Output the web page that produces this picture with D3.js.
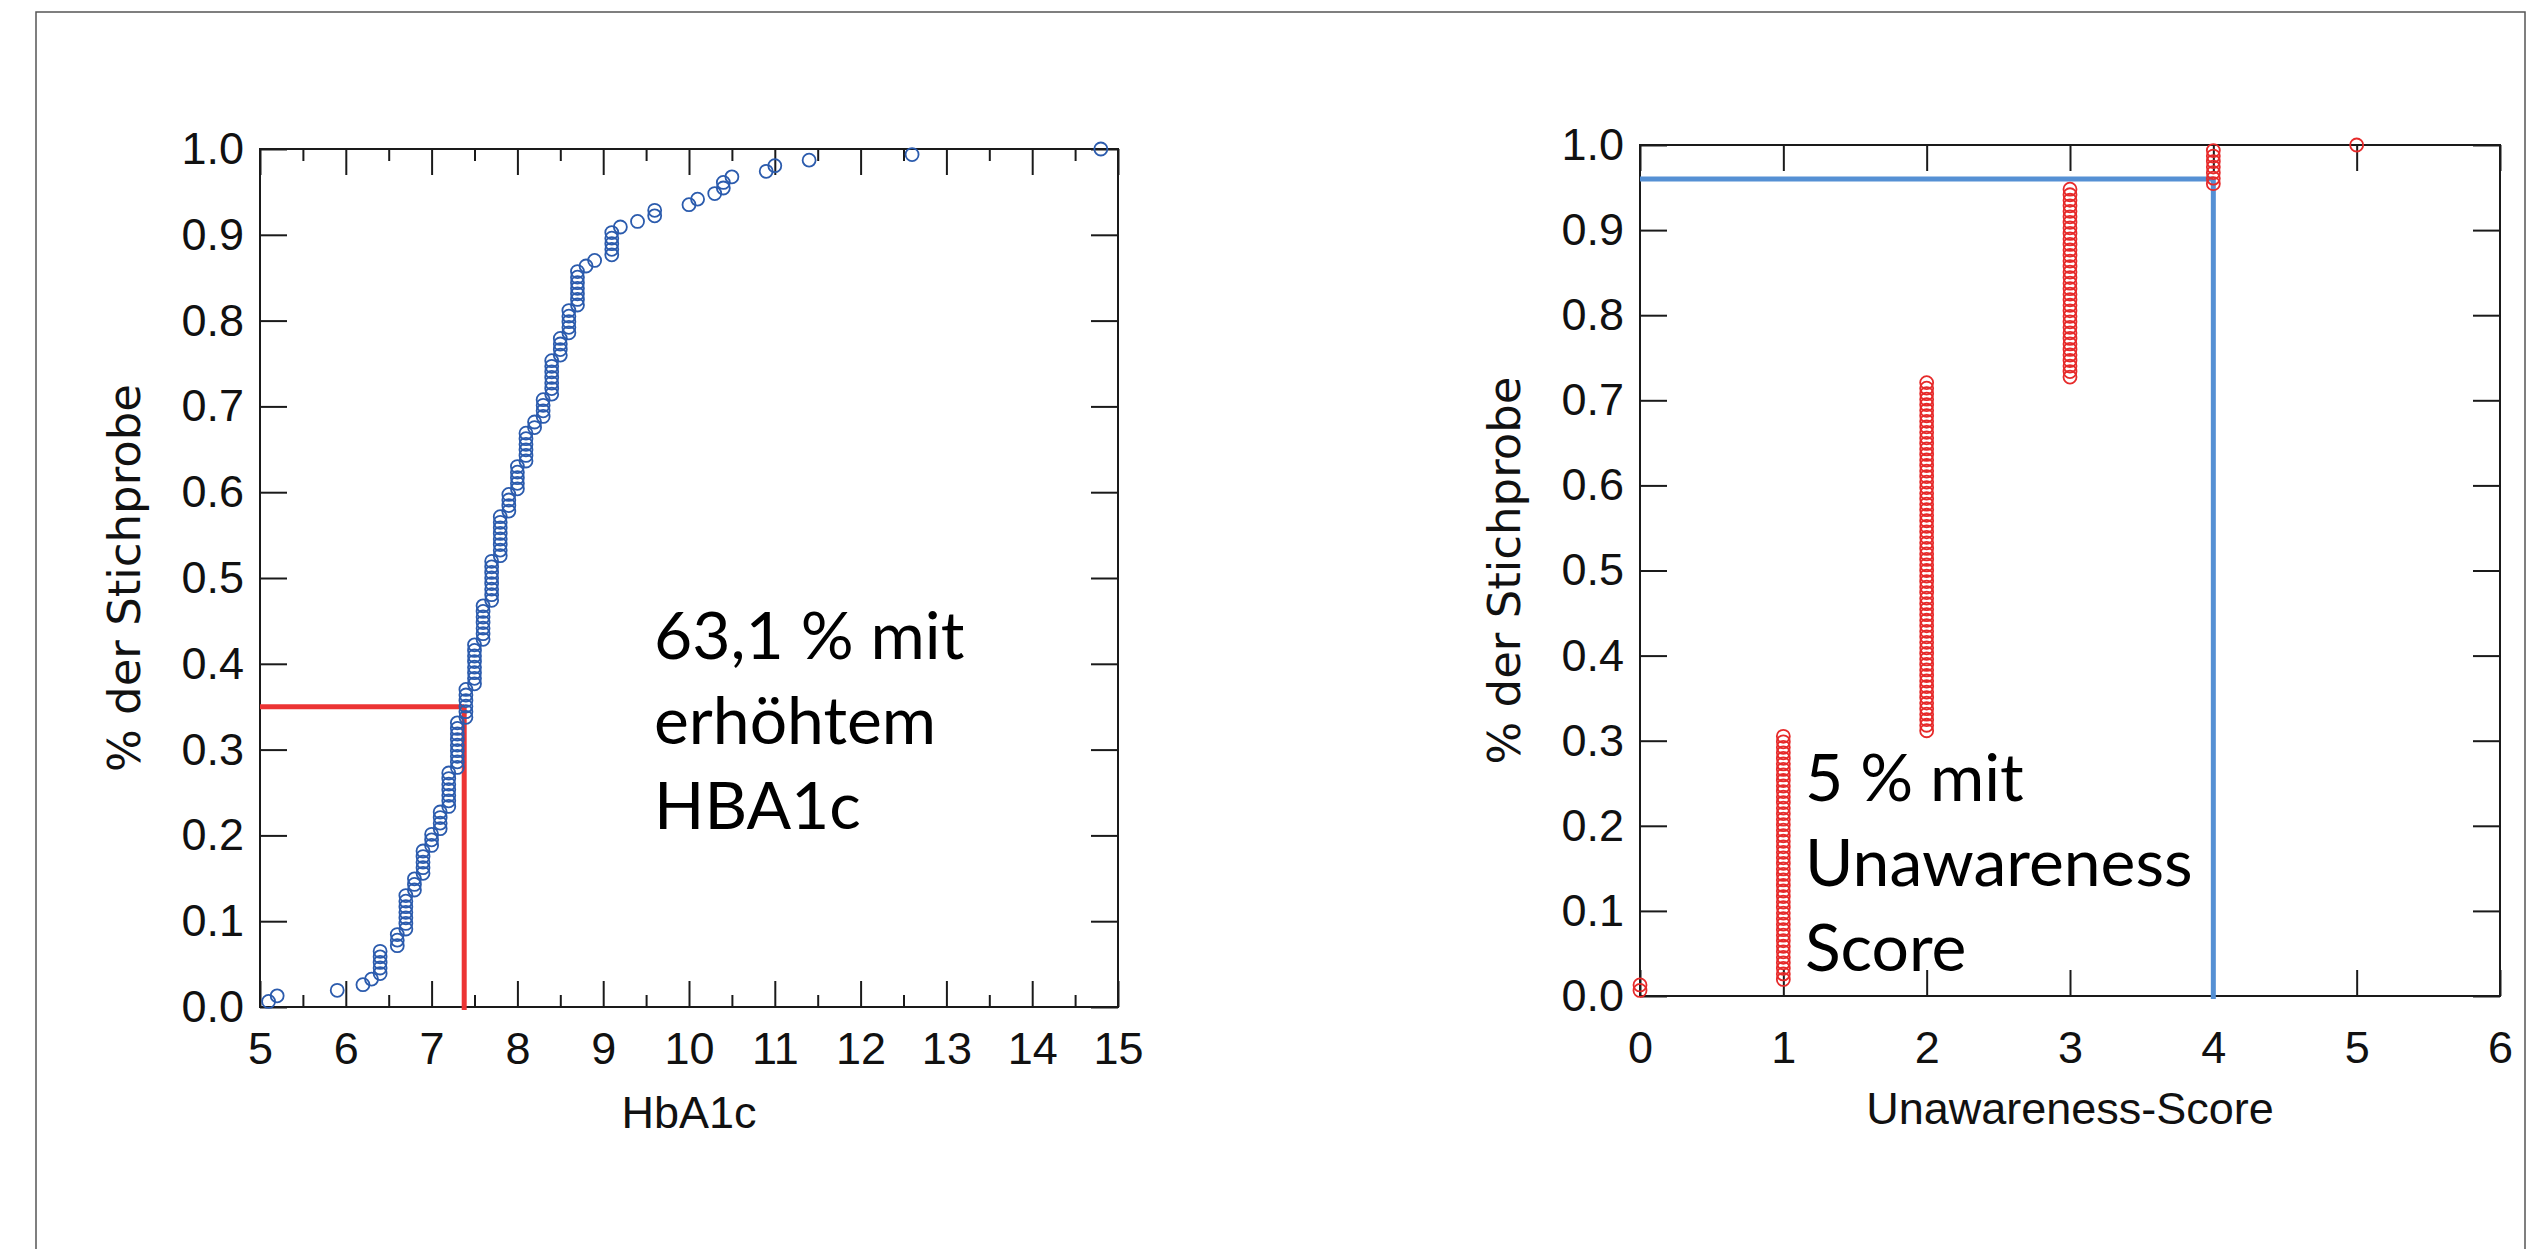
<!DOCTYPE html>
<html>
<head>
<meta charset="utf-8">
<script src="https://cdnjs.cloudflare.com/ajax/libs/d3/7.8.5/d3.min.js"></script>
<style>
body{margin:0;background:#fff;}
.tick text{font-family:"Liberation Sans",Arial,sans-serif;font-size:45px;fill:#111;}
.tick line{stroke:#1a1a1a;stroke-width:2;}
.frame{fill:none;stroke:#1a1a1a;stroke-width:2;}
.xtitle{font-family:"Liberation Sans",Arial,sans-serif;font-size:45px;fill:#111;}
.ytitle{font-family:"DejaVu Sans",Verdana,sans-serif;font-size:45px;fill:#111;}
.note{font-family:Lato,sans-serif;font-size:66px;fill:#000;}
</style>
</head>
<body>
<script>
// HbA1c: distinct values and how many patients share each value
var hbaValues = [5.1,5.2,5.9,6.2,6.3,6.4,6.6,6.7,6.8,6.9,7.0,7.1,7.2,7.3,7.4,7.5,7.6,7.7,7.8,7.9,8.0,8.1,8.2,8.3,8.4,8.5,8.6,8.7,8.8,8.9,9.1,9.2,9.4,9.6,10.0,10.1,10.3,10.4,10.5,10.9,11.0,11.4,12.6,14.8];
var hbaCounts = [1,1,1,1,1,5,3,7,3,5,3,4,7,9,6,8,7,8,8,4,5,6,2,4,7,4,5,7,1,1,5,1,1,2,1,1,1,2,1,1,1,1,1,1];

// Unawareness-Score: values and counts
var scoreValues = [0,1,2,3,4,5];
var scoreCounts = [2,45,64,35,7,1];

var yTicks = [0,0.1,0.2,0.3,0.4,0.5,0.6,0.7,0.8,0.9,1.0];
var hbaTicks = [5,6,7,8,9,10,11,12,13,14,15];
var hbaMinorTicks = [5.5,6.5,7.5,8.5,9.5,10.5,11.5,12.5,13.5,14.5];
var scoreTicks = [0,1,2,3,4,5,6];

var hbaCut = {x:7.38, y:0.35};
var scoreCut = {x:4, y:0.96};

var hbaNote = ["63,1 % mit","erhöhtem","HBA1c"];
var scoreNote = ["5 % mit","Unawareness","Score"];

var ecdf = function(values, counts){
    var n = d3.sum(counts), rank = 0, pts = [];
    values.forEach(function(v,i){
        for (var j = 0; j < counts[i]; j++){
            rank++;
            pts.push({x:v, y:rank/n});
        }
    });
    return pts;
}

var drawAxes = function(g, xScale, yScale, cfg){
    var x0 = xScale.range()[0], x1 = xScale.range()[1];
    var y0 = yScale.range()[0], y1 = yScale.range()[1];
    var fmt = d3.format(".1f");

    g.append('g').attr('transform','translate(0,'+y0+')')
        .call(d3.axisBottom(xScale).tickValues(cfg.xTicks).tickSize(-26).tickPadding(cfg.xPad).tickFormat(d3.format("d")));
    g.append('g').attr('transform','translate(0,'+y1+')')
        .call(d3.axisTop(xScale).tickValues(cfg.xTicks).tickSize(-26).tickFormat(""));
    if (cfg.minor){
        g.append('g').attr('transform','translate(0,'+y0+')')
            .call(d3.axisBottom(xScale).tickValues(cfg.minor).tickSize(-12).tickFormat(""));
        g.append('g').attr('transform','translate(0,'+y1+')')
            .call(d3.axisTop(xScale).tickValues(cfg.minor).tickSize(-12).tickFormat(""));
    }
    g.append('g').attr('transform','translate('+x0+',0)')
        .call(d3.axisLeft(yScale).tickValues(yTicks).tickSize(-27).tickPadding(16).tickFormat(fmt));
    g.append('g').attr('transform','translate('+x1+',0)')
        .call(d3.axisRight(yScale).tickValues(yTicks).tickSize(-27).tickFormat(""));
    g.selectAll('.domain').remove();
    g.selectAll('.tick text').attr('font-size', null).attr('font-family', null).attr('fill', null);
    g.selectAll('.tick line').attr('stroke', null);

    g.append('rect').classed('frame',true)
        .attr('x',x0).attr('y',y1).attr('width',x1-x0).attr('height',y0-y1);
}

var drawPanel = function(svg, cfg){
    var xScale = d3.scaleLinear().domain(cfg.xDomain).range(cfg.xRange);
    var yScale = d3.scaleLinear().domain([0,1]).range(cfg.yRange);
    var g = svg.append('g');

    drawAxes(g, xScale, yScale, cfg);

    // cut-off guide lines
    var d0 = xScale.domain()[0];
    g.append('path')
        .attr('d', d3.line()([[xScale(d0), yScale(cfg.cut.y)], [xScale(cfg.cut.x), yScale(cfg.cut.y)]]))
        .attr('stroke', cfg.lineColor).attr('stroke-width', 5).attr('fill','none');
    g.append('path')
        .attr('d', d3.line()([[xScale(cfg.cut.x), yScale(cfg.cut.y)], [xScale(cfg.cut.x), yScale(0)+3]]))
        .attr('stroke', cfg.lineColor).attr('stroke-width', 5).attr('fill','none');

    g.append('g').selectAll('circle').data(cfg.points).enter().append('circle')
        .attr('cx', function(d){ return xScale(d.x); })
        .attr('cy', function(d){ return yScale(d.y); })
        .attr('r', cfg.r)
        .attr('fill','none')
        .attr('stroke', cfg.dotColor)
        .attr('stroke-width', 1.8);

    var cx = (cfg.xRange[0]+cfg.xRange[1])/2, cy = (cfg.yRange[0]+cfg.yRange[1])/2;
    g.append('text').classed('xtitle',true)
        .attr('x', cx).attr('y', cfg.yRange[0]+cfg.titleGap)
        .attr('text-anchor','middle').text(cfg.xTitle);
    g.append('text').classed('ytitle',true)
        .attr('transform','translate('+(cfg.xRange[0]-120)+','+cy+') rotate(-90)')
        .attr('text-anchor','middle').text('% der Stichprobe');

    var note = g.append('text').classed('note',true);
    cfg.note.forEach(function(t,i){
        note.append('tspan').attr('x', cfg.notePos[0]).attr('y', cfg.notePos[1] + i*85).text(t);
    });
}

var loadGraph = function(){
    var svg = d3.select('body').append('svg')
        .attr('width', 2535).attr('height', 1249);

    svg.append('path')
        .attr('d','M36,1249V12H2525V1249')
        .attr('fill','none').attr('stroke','#555').attr('stroke-width',1.5);

    drawPanel(svg, {
        xDomain:[5,15], xRange:[260,1118], yRange:[1007,149],
        xTicks:hbaTicks, minor:hbaMinorTicks, xPad:25, titleGap:121,
        points:ecdf(hbaValues, hbaCounts), r:6.5, dotColor:'#2b5bad',
        cut:hbaCut, lineColor:'#ec3434',
        xTitle:'HbA1c', note:hbaNote, notePos:[654,659]
    });
    drawPanel(svg, {
        xDomain:[0,6], xRange:[1640,2500], yRange:[996,145],
        xTicks:scoreTicks, minor:null, xPad:35, titleGap:128,
        points:ecdf(scoreValues, scoreCounts), r:6.5, dotColor:'#e62a2a',
        cut:scoreCut, lineColor:'#5590d4',
        xTitle:'Unawareness-Score', note:scoreNote, notePos:[1805,801]
    });
}

window.onload = loadGraph;
</script>
</body>
</html>
